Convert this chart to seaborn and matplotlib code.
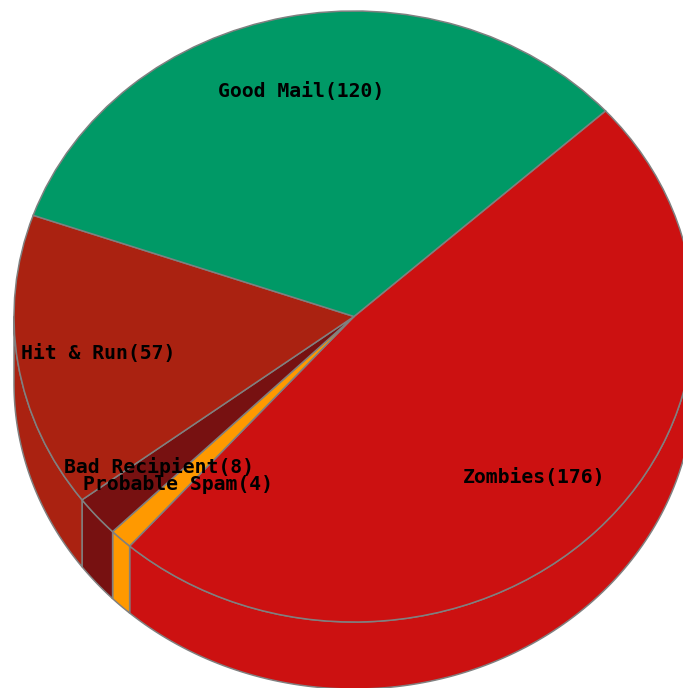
import numpy as np
import matplotlib
matplotlib.use("Agg")
import matplotlib.pyplot as plt
import seaborn as sns

# values, clockwise from the upper right
categories = ["Zombies", "Probable Spam", "Bad Recipient", "Hit & Run", "Good Mail"]
counts = [176, 4, 8, 57, 120]
sliceColors = ["#CC1111", "#FF9900", "#771111", "#AA2211", "#009966"]

# label centres in image pixels
labelPixels = [(534, 477), (178, 484), (159, 467), (98, 353), (301, 92)]

WIDTH, HEIGHT = 683, 688
CENTER_X, CENTER_Y = 354, 316.5
RADIUS_X, RADIUS_Y = 340, 305.5
DEPTH = 67 / RADIUS_Y
START_ANGLE = 42.3
EDGE = "#808080"

sns.set_theme(style="white")
plt.rcParams["font.family"] = ["DejaVu Sans Mono"]

fig = plt.figure(figsize=(WIDTH / 100, HEIGHT / 100), dpi=100)
ax = fig.add_axes([0, 0, 1, 1])

# side wall of the pie: only the front half (180-360 deg) can be seen
shares = np.array(counts) / sum(counts) * 360
ends = START_ANGLE - np.cumsum(shares)
starts = ends + shares
for startAngle, endAngle, color in zip(starts, ends, sliceColors):
    lo = max(endAngle, -180)
    hi = min(startAngle, 0)
    if hi <= lo:
        continue
    angles = np.radians(np.linspace(lo, hi, 120))
    xs = np.cos(angles)
    ys = np.sin(angles)
    ax.fill(np.r_[xs, xs[::-1]], np.r_[ys, ys[::-1] - DEPTH],
            facecolor=color, edgecolor=EDGE, linewidth=1.1, zorder=1)

# top face, the stretched axes turn the circle into the ellipse
wedges, _ = ax.pie(counts, colors=sliceColors, startangle=START_ANGLE,
                   counterclock=False, radius=1,
                   wedgeprops={"edgecolor": EDGE, "linewidth": 1.1, "zorder": 2})

ax.set_aspect("auto")
ax.set_xlim(-CENTER_X / RADIUS_X, (WIDTH - CENTER_X) / RADIUS_X)
ax.set_ylim((CENTER_Y - HEIGHT) / RADIUS_Y, CENTER_Y / RADIUS_Y)
ax.axis("off")

for name, count, (px, py) in zip(categories, counts, labelPixels):
    fig.text(px / WIDTH, 1 - py / HEIGHT, f"{name}({count})", ha="center", va="center",
             fontsize=14.2, fontweight="bold", color="black", zorder=5)

fig.savefig("out.png", dpi=100, facecolor="white")
